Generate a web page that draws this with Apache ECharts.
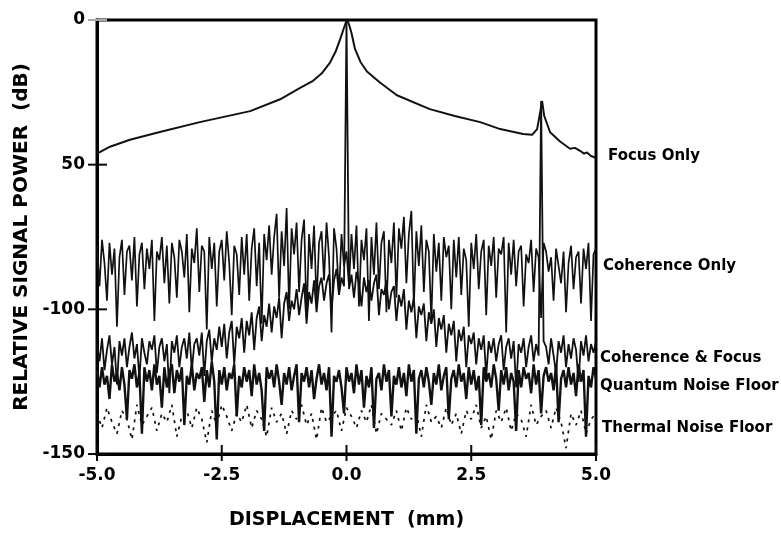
<!DOCTYPE html>
<html><head><meta charset="utf-8">
<script src="https://cdn.jsdelivr.net/npm/echarts@6/dist/echarts.min.js"></script>
<style>html,body{margin:0;padding:0;background:#fff}#c{width:781px;height:535px}</style>
</head><body><div id="c"></div>
<script>
// ---- axis ticks ----
const xTickValues = [-5, -2.5, 0, 2.5, 5];
const xTickLabels = ['-5.0', '-2.5', '0.0', '2.5', '5.0'];
const yTickValues = [0, -50, -100, -150];
const yTickLabels = ['0', '50', '-100', '-150'];

// ---- series names and the level (dB) where each right-hand label sits ----
const seriesNames = ['Focus Only', 'Coherence Only', 'Coherence & Focus', 'Quantum Noise Floor', 'Thermal Noise Floor'];
const labelLevels = [-46.9, -84.9, -116.8, -126.4, -141];

// ---- Focus Only (smooth trace) ----
const focusX = [-5.0, -4.74, -4.34, -3.74, -2.94, -1.93, -1.33, -0.93, -0.67, -0.5, -0.33, -0.22, -0.13, -0.06, -0.02, 0.01, 0.05, 0.1, 0.17, 0.28, 0.41, 0.67, 1.01, 1.67, 2.17, 2.68, 3.08, 3.54, 3.72, 3.82, 3.88, 3.92, 3.96, 4.08, 4.28, 4.48, 4.58, 4.68, 4.76, 4.82, 4.9, 5.0];
const focusY = [-46.2, -43.8, -41.4, -38.7, -35.3, -31.5, -27.4, -23.5, -21, -18.5, -14.7, -11, -6.8, -3.2, -1.2, 0, -1.5, -4.5, -10, -14.5, -17.8, -21.6, -26, -30.8, -33.2, -35.3, -37.7, -39.4, -39.7, -37.7, -32, -28, -33, -38.8, -42, -44.5, -44.2, -45.2, -46.2, -45.8, -47, -47.6];

// ---- noisy traces, sampled every 0.05 mm from -5 (thermal every 0.1 mm) ----
const coherenceOnly = [
 -78,-92,-76,-84,-97,-77,-88,-79,-106,-82,
 -76,-95,-80,-78,-90,-75,-99,-81,-77,-93,
 -79,-86,-76,-104,-80,-83,-75,-91,-78,-98,
 -77,-82,-96,-76,-80,-89,-74,-101,-79,-84,
 -72,-94,-78,-80,-107,-75,-86,-77,-99,-80,
 -76,-90,-73,-84,-102,-78,-81,-95,-75,-88,
 -74,-97,-79,-72,-92,-77,-105,-74,-83,-71,
 -88,-75,-67,-96,-73,-85,-65,-100,-72,-81,
 -70,-94,-76,-69,-103,-74,-86,-71,-98,-77,
 -73,-90,-70,-82,-108,-72,-79,-95,-74,-85,
 -80,-92,-74,-86,-71,-99,-76,-83,-72,-104,
 -75,-88,-70,-93,-77,-73,-101,-76,-84,-70,
 -96,-72,-79,-68,-91,-74,-66,-99,-73,-85,
 -71,-94,-76,-80,-104,-74,-87,-77,-97,-75,
 -82,-78,-100,-76,-89,-75,-95,-79,-83,-106,
 -77,-86,-74,-93,-80,-76,-102,-78,-85,-75,
 -96,-79,-81,-75,-108,-77,-88,-76,-92,-80,
 -78,-99,-81,-84,-76,-94,-79,-82,-103,-77,
 -80,-87,-82,-97,-79,-85,-91,-80,-101,-84,
 -78,-93,-82,-80,-98,-79,-86,-77,-104,-81,
 -79];
const coherenceFocus = [
 -112,-118,-110,-121,-114,-109,-119,-113,-126,-111,
 -116,-110,-120,-113,-108,-117,-112,-124,-110,-115,
 -119,-111,-114,-109,-122,-113,-110,-118,-112,-129,
 -111,-115,-109,-120,-113,-110,-117,-108,-121,-112,
 -110,-116,-108,-123,-111,-107,-118,-110,-114,-106,
 -113,-105,-117,-108,-104,-119,-106,-110,-103,-115,
 -104,-109,-101,-114,-103,-99,-111,-102,-106,-98,
 -108,-99,-103,-96,-110,-98,-94,-104,-97,-100,
 -93,-102,-96,-91,-105,-94,-98,-90,-101,-92,
 -89,-97,-91,-88,-100,-90,-86,-95,-89,-92,
 0,-93,-88,-96,-87,-91,-99,-89,-94,-90,
 -97,-91,-88,-102,-93,-95,-90,-100,-94,-92,
 -104,-95,-99,-93,-107,-97,-101,-96,-110,-99,
 -102,-98,-111,-101,-105,-100,-113,-103,-107,-102,
 -115,-105,-109,-104,-118,-107,-111,-106,-120,-109,
 -112,-108,-119,-110,-114,-109,-123,-111,-115,-110,
 -118,-112,-109,-121,-113,-110,-117,-111,-127,-112,
 -115,-110,-120,-113,-109,-118,-112,-116,-28,-111,
 -113,-119,-110,-116,-122,-111,-115,-109,-120,-112,
 -117,-110,-114,-125,-111,-116,-109,-118,-112,-115,
 -111];
const quantumFloor = [
 -121,-127,-120,-126,-123,-131,-119,-125,-122,-128,
 -120,-126,-138,-121,-124,-119,-127,-122,-143,-120,
 -125,-121,-128,-119,-126,-123,-134,-120,-127,-122,
 -119,-129,-121,-125,-120,-140,-123,-126,-119,-128,
 -122,-124,-120,-132,-121,-127,-118,-125,-145,-121,
 -126,-120,-128,-122,-124,-119,-137,-123,-127,-120,
 -125,-121,-130,-119,-126,-122,-128,-142,-120,-124,
 -121,-127,-119,-125,-133,-122,-126,-120,-128,-123,
 -119,-139,-122,-125,-120,-127,-121,-131,-124,-119,
 -126,-122,-128,-120,-144,-123,-125,-121,-127,-136,
 -120,-125,-122,-129,-119,-126,-121,-134,-123,-127,
 -120,-141,-124,-122,-128,-119,-125,-121,-137,-123,
 -126,-120,-127,-122,-130,-119,-125,-121,-143,-124,
 -121,-127,-120,-125,-133,-122,-126,-119,-128,-123,
 -120,-138,-124,-121,-127,-119,-125,-122,-131,-120,
 -126,-121,-128,-123,-140,-120,-125,-122,-127,-119,
 -124,-135,-121,-126,-120,-128,-122,-125,-142,-121,
 -127,-120,-124,-122,-129,-119,-126,-121,-136,-123,
 -120,-125,-122,-128,-119,-139,-124,-121,-127,-120,
 -126,-122,-130,-119,-125,-121,-144,-123,-127,-120,
 -124];
const thermalFloor = [
 -136,-141,-134,-139,-143,-135,-138,-145,-133,-140,
 -137,-134,-142,-136,-139,-133,-144,-137,-135,-141,
 -134,-138,-146,-135,-140,-133,-137,-142,-136,-139,
 -133,-141,-135,-138,-144,-134,-139,-136,-143,-135,
 -138,-133,-140,-136,-145,-134,-139,-137,-135,-142,
 -134,-137,-141,-135,-139,-133,-143,-136,-138,-140,
 -135,-142,-134,-138,-136,-144,-133,-139,-137,-141,
 -134,-140,-136,-143,-135,-138,-133,-141,-137,-145,
 -135,-139,-134,-142,-136,-138,-144,-133,-140,-137,
 -135,-141,-134,-139,-148,-136,-140,-135,-143,-138,
 -136];
const noiseStart = -5, noiseStep = 0.05, thermalStep = 0.1;

function pairs(vals, step) { return vals.map((v, i) => [+(noiseStart + i * step).toFixed(3), v]); }

const FONT = '"DejaVu Sans", "Liberation Sans", Arial, sans-serif';
const INK = '#111';

const chart = echarts.init(document.getElementById('c'), null, { renderer: 'canvas' });
const lineBase = { type: 'line', symbol: 'none', animation: false, silent: true, sampling: null };

chart.setOption({
  backgroundColor: '#fff',
  animation: false,
  grid: { left: 97, right: 185, top: 20, bottom: 77, show: true, borderColor: '#000', borderWidth: 3 },
  xAxis: {
    type: 'value', min: -5, max: 5, interval: 2.5, position: 'bottom',
    axisLine: { show: true, onZero: false, lineStyle: { color: '#000', width: 3 } },
    axisTick: { show: false },
    splitLine: { show: false },
    axisLabel: { show: true, margin: 13, color: '#000', fontFamily: FONT, fontWeight: 'bold', fontSize: 17,
      formatter: (v) => xTickLabels[xTickValues.indexOf(v)] },
    name: 'DISPLACEMENT  (mm)', nameLocation: 'middle', nameGap: 57,
    nameTextStyle: { color: '#000', fontFamily: FONT, fontWeight: 'bold', fontSize: 19 }
  },
  yAxis: {
    type: 'value', min: -150, max: 0, interval: 50, position: 'left',
    axisLine: { show: true, onZero: false, lineStyle: { color: '#000', width: 3 } },
    axisTick: { show: false },
    splitLine: { show: false },
    axisLabel: { show: true, margin: 12, color: '#000', fontFamily: FONT, fontWeight: 'bold', fontSize: 17,
      formatter: (v) => yTickLabels[yTickValues.indexOf(v)] },
    name: 'RELATIVE SIGNAL POWER  (dB)', nameLocation: 'middle', nameGap: 62,
    nameTextStyle: { color: '#000', fontFamily: FONT, fontWeight: 'bold', fontSize: 20 }
  },
  series: [
    Object.assign({}, lineBase, { name: seriesNames[4], data: pairs(thermalFloor, thermalStep),
      lineStyle: { color: INK, width: 1.7, type: [3, 5] } }),
    Object.assign({}, lineBase, { name: seriesNames[3], data: pairs(quantumFloor, noiseStep),
      lineStyle: { color: INK, width: 2.4 } }),
    Object.assign({}, lineBase, { name: seriesNames[2], data: pairs(coherenceFocus, noiseStep),
      lineStyle: { color: INK, width: 1.8 } }),
    Object.assign({}, lineBase, { name: seriesNames[1], data: pairs(coherenceOnly, noiseStep),
      lineStyle: { color: INK, width: 1.7 } }),
    Object.assign({}, lineBase, { name: seriesNames[0], data: focusX.map((x, i) => [x, focusY[i]]),
      lineStyle: { color: INK, width: 2 } })
  ]
});

// crossing tick marks at the axis tick values, placed through the chart's own scales
const xAxisY = chart.convertToPixel({ yAxisIndex: 0 }, -150);
const yAxisX = chart.convertToPixel({ xAxisIndex: 0 }, -5);
const rightEdge = chart.convertToPixel({ xAxisIndex: 0 }, 5);
const elements = [];
xTickValues.forEach((v, i) => {
  const px = chart.convertToPixel({ xAxisIndex: 0 }, v);
  elements.push({ type: 'rect', id: 'xt' + i, silent: true, z: 100, zlevel: 1,
    shape: { x: px - 1, y: xAxisY - 9, width: 2, height: 16 },
    style: { fill: '#0a0a0a' } });
});
yTickValues.forEach((v, i) => {
  const py = chart.convertToPixel({ yAxisIndex: 0 }, v);
  elements.push({ type: 'rect', id: 'yt' + i, silent: true, z: 100, zlevel: 1,
    shape: { x: yAxisX - 9, y: py - 1, width: 19, height: 2 },
    style: { fill: v === 0 ? '#aaa' : '#0a0a0a' } });
});

// right-hand series labels, placed at their dB level
const labelOffsets = [12, 7, 4, 4, 6];
seriesNames.forEach((name, i) => elements.push({
  type: 'text', id: 'lab' + i, silent: true,
  x: rightEdge + labelOffsets[i],
  y: chart.convertToPixel({ yAxisIndex: 0 }, labelLevels[i]),
  style: { text: name, fill: '#000', font: 'bold 15px ' + FONT, textVerticalAlign: 'middle', textAlign: 'left' }
}));
chart.setOption({ graphic: elements });
</script>
</body></html>
